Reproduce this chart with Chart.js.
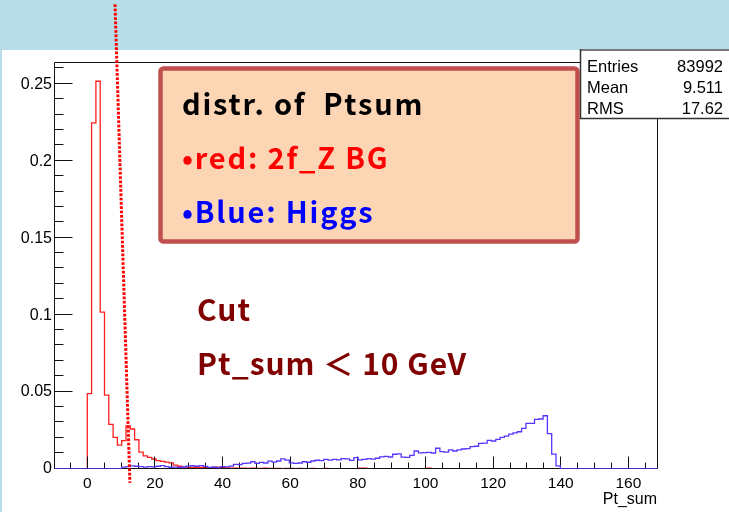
<!DOCTYPE html>
<html>
<head>
<meta charset="utf-8">
<title>Ptsum distribution</title>
<script src="https://cdn.jsdelivr.net/npm/chart.js@4.4.0/dist/chart.umd.min.js"></script>
<style>
  html, body { margin: 0; padding: 0; background: #ffffff; }
  #ptsumChart { display: block; }
</style>
</head>
<body>
<canvas id="ptsumChart" width="729" height="512"></canvas>
<script>
// histogram binning (Pt_sum, GeV)
const xMin = -9.55;
const xMax = 168.45;
const yMax = 0.2645;
const binWidth = 1.2714;

// 2f_Z background, first bin starts at 0
const bgFirstBin = 0;
const bgCounts = [
    0.049, 0.225, 0.252, 0.102, 0.048, 0.029, 0.0205, 0.0155, 0.0185, 0.028,
    0.026, 0.019, 0.011, 0.0085, 0.0075, 0.0065, 0.0055, 0.005, 0.0045, 0.004,
    0.0025, 0.0018, 0.0014, 0.0009, 0.0010, 0.0009, 0.0010, 0.0008, 0.0009, 0.0008,
    0.0012, 0.0008, 0.0007, 0.0006, 0.0006, 0.0005, 0.0005, 0.0004, 0.0005, 0.0004,
    0.0004, 0.0005, 0.0004, 0.0004, 0.0004, 0.0003, 0.0004, 0.0004, 0.0003, 0.0004,
    0.0003, 0.0003, 0.0004, 0.0003, 0.0003, 0.0004, 0.0003, 0.0003, 0.0003, 0.0002,
    0.0003, 0.0003, 0.0002, 0.0006, 0.0005, 0.0002, 0.0001, 0.0002, 0.0001, 0.0001,
    0.0002, 0.0001, 0.0001, 0.0001, 0.0001, 0.0002, 0.0001, 0.0001, 0.0002, 0.0006,
    0.0001, 0.0001, 0.0001, 0.0001, 0.0001, 0.0001, 0.0001, 0.0001, 0.0001, 0.0001
];

// Higgs signal, first filled bin starts near 10 GeV
const higgsFirstBin = 8;
const higgsCounts = [
    0.0012, 0.0015, 0.0020, 0.0018, 0.0015, 0.0012, 0.0016, 0.0014, 0.0018, 0.0022,
    0.0015, 0.0010, 0.0012, 0.0011, 0.0013, 0.0019, 0.0021, 0.0018, 0.0022, 0.0017,
    0.0011, 0.0013, 0.0009, 0.0016, 0.0014, 0.0019, 0.0030, 0.0028, 0.0036, 0.0038,
    0.0047, 0.0036, 0.0043, 0.0039, 0.0051, 0.0045, 0.0052, 0.0066, 0.0058, 0.0040,
    0.0036, 0.0039, 0.0047, 0.0044, 0.0052, 0.0057, 0.0055, 0.0062, 0.0058, 0.0063,
    0.0059, 0.0068, 0.0066, 0.0056, 0.0074, 0.0059, 0.0062, 0.0067, 0.0064, 0.0070,
    0.0079, 0.0082, 0.0078, 0.0096, 0.0098, 0.0077, 0.0075, 0.0088, 0.0117, 0.0105,
    0.0106, 0.0108, 0.0104, 0.0135, 0.0113, 0.0110, 0.0124, 0.0117, 0.0124, 0.0130,
    0.0133, 0.0145, 0.0148, 0.0166, 0.0168, 0.0186, 0.0182, 0.0193, 0.0205, 0.0213,
    0.0226, 0.0235, 0.0242, 0.0264, 0.0297, 0.0296, 0.0323, 0.0325, 0.0346, 0.0230,
    0.0097, 0.0020
];

// axis ticks
const xMajorTicks = [0, 20, 40, 60, 80, 100, 120, 140, 160];
const xMinorStep = 5;
const yMajorTicks = [0, 0.05, 0.1, 0.15, 0.2, 0.25];
const yTickLabels = ['0', '0.05', '0.1', '0.15', '0.2', '0.25'];
const yMinorStep = 0.01;

// cut marker (dotted), runs past the frame at both ends
const cutLineTop = { x: 8.2, y: 0.302 };
const cutLineBottom = { x: 12.6, y: -0.009 };

// text panels
const noteLines = ['distr. of  Ptsum', '\u2022red: 2f_Z BG', '\u2022Blue: Higgs'];
const noteColors = ['#000000', '#ff0000', '#0000ff'];
const cutLines = ['Cut', 'Pt_sum \uFF1C 10 GeV'];
const statNames = ['Entries', 'Mean', 'RMS'];
const statValues = ['83992', '9.511', '17.62'];
const xTitle = 'Pt_sum';

const bandColor = '#b7dde8';

function histPoints(counts, firstBin) {
    const pts = [{ x: xMin, y: 0 }];
    counts.forEach((v, i) => pts.push({ x: (firstBin + i) * binWidth, y: v }));
    pts.push({ x: (firstBin + counts.length) * binWidth, y: 0 });
    pts.push({ x: xMax, y: 0 });
    return pts;
}

function crisp(v) {
    return Math.floor(v) + 0.5;
}

// frame and inward ticks, painted right after the background histogram
function drawFrame(chart) {
    const c = chart.ctx;
    const area = chart.chartArea;
    const xs = chart.scales.x;
    const ys = chart.scales.y;
    const left = crisp(area.left) - 1;
    const bottom = crisp(area.bottom) - 1;
    c.save();
    c.lineWidth = 1;
    c.strokeStyle = '#111111';
    c.beginPath();
    c.moveTo(left, crisp(area.top));
    c.lineTo(crisp(area.right), crisp(area.top));
    c.lineTo(crisp(area.right), bottom);
    c.stroke();

    c.beginPath();
    c.moveTo(left, crisp(area.top));
    c.lineTo(left, bottom);
    c.lineTo(crisp(area.right), bottom);
    c.stroke();

    // y ticks
    c.beginPath();
    for (let v = 0; v <= yMax + 1e-9; v += yMinorStep) {
        const y = crisp(ys.getPixelForValue(v)) - 1;
        const major = yMajorTicks.some(t => Math.abs(t - v) < 1e-6);
        c.moveTo(left, y);
        c.lineTo(left + (major ? 18 : 9), y);
    }
    c.stroke();

    // x ticks
    c.beginPath();
    const firstMinor = Math.ceil(xMin / xMinorStep) * xMinorStep;
    for (let v = firstMinor; v <= xMax; v += xMinorStep) {
        const x = crisp(xs.getPixelForValue(v));
        const major = xMajorTicks.includes(v);
        c.moveTo(x, bottom);
        c.lineTo(x, bottom - (major ? 12 : 6));
    }
    c.stroke();
    c.restore();
}

function drawNote(c) {
    c.save();
    c.fillStyle = '#fcd5b4';
    c.strokeStyle = '#c0504d';
    c.lineWidth = 4.5;
    c.beginPath();
    c.roundRect(160.5, 68.5, 417, 173, 3);
    c.fill();
    c.stroke();
    c.font = 'bold 29px "Noto Sans CJK JP", sans-serif';
    c.letterSpacing = '1.8px';
    c.textBaseline = 'alphabetic';
    const baselines = [115, 169, 223];
    noteLines.forEach((t, i) => {
        c.fillStyle = noteColors[i];
        c.fillText(t, 182, baselines[i]);
    });

    c.fillStyle = '#800000';
    c.font = 'bold 30px "Noto Sans CJK JP", sans-serif';
    c.letterSpacing = '1px';
    c.fillText(cutLines[0], 197, 321);
    c.fillText(cutLines[1], 197, 375);
    c.restore();
}

function drawCut(chart) {
    const c = chart.ctx;
    const xs = chart.scales.x;
    const ys = chart.scales.y;
    c.save();
    c.strokeStyle = '#ff0000';
    c.lineWidth = 3;
    c.setLineDash([2.7, 1.6]);
    c.beginPath();
    c.moveTo(xs.getPixelForValue(cutLineTop.x), ys.getPixelForValue(cutLineTop.y));
    c.lineTo(xs.getPixelForValue(cutLineBottom.x), ys.getPixelForValue(cutLineBottom.y));
    c.stroke();
    c.restore();
}

function drawStats(chart) {
    const c = chart.ctx;
    c.save();
    c.fillStyle = '#ffffff';
    c.fillRect(580, 49, chart.width - 580, 69);
    c.strokeStyle = '#777777';
    c.lineWidth = 2;
    c.beginPath();
    c.moveTo(580, 50);
    c.lineTo(chart.width, 50);
    c.stroke();
    c.strokeStyle = '#333333';
    c.lineWidth = 1.5;
    c.beginPath();
    c.moveTo(580.5, 49);
    c.lineTo(580.5, 118.5);
    c.lineTo(chart.width, 118.5);
    c.stroke();

    c.fillStyle = '#000000';
    c.font = '16.5px "Liberation Sans", Arial, sans-serif';
    const baselines = [72, 93, 114];
    statNames.forEach((name, i) => {
        c.textAlign = 'left';
        c.fillText(name, 587, baselines[i]);
        c.textAlign = 'right';
        c.fillText(statValues[i], 723, baselines[i]);
    });

    // axis title, right aligned to the frame
    c.font = '16px "Liberation Sans", Arial, sans-serif';
    c.textAlign = 'right';
    c.fillText(xTitle, chart.chartArea.right, 504);
    c.restore();
}

const panelPlugin = {
    id: 'panel',
    beforeDraw(chart) {
        const c = chart.ctx;
        c.save();
        c.fillStyle = '#ffffff';
        c.fillRect(0, 0, chart.width, chart.height);
        c.fillStyle = bandColor;
        c.fillRect(0, 0, chart.width, 50);
        c.fillRect(0, 0, 2, chart.height);
        c.restore();
    },
    afterDatasetDraw(chart, args) {
        if (chart.data.datasets[args.index].label === '2f_Z BG') {
            drawFrame(chart);
        }
    },
    afterDraw(chart) {
        drawNote(chart.ctx);
        drawCut(chart);
        drawStats(chart);
    }
};

const ctx = document.getElementById('ptsumChart').getContext('2d');

const ptsumChart = new Chart(ctx, {
    type: 'line',
    data: {
        datasets: [{
            label: 'Higgs',
            data: histPoints(higgsCounts, higgsFirstBin),
            borderColor: 'rgb(85, 55, 255)',
            borderWidth: 1.3,
            stepped: true,
            pointRadius: 0,
            fill: false,
            order: 0
        }, {
            label: '2f_Z BG',
            data: histPoints(bgCounts, bgFirstBin),
            borderColor: 'rgb(255, 30, 30)',
            borderWidth: 1.3,
            stepped: true,
            pointRadius: 0,
            fill: false,
            order: 1
        }]
    },
    options: {
        responsive: false,
        animation: false,
        devicePixelRatio: 1,
        layout: { padding: { left: 0, right: 72, top: 62, bottom: 0 } },
        plugins: {
            legend: { display: false },
            tooltip: { enabled: false }
        },
        scales: {
            x: {
                type: 'linear',
                min: xMin,
                max: xMax,
                border: { display: false },
                grid: { display: false, drawTicks: false },
                afterBuildTicks: scale => { scale.ticks = xMajorTicks.map(v => ({ value: v })); },
                afterFit: scale => { scale.height = 43; },
                ticks: {
                    padding: 5,
                    maxRotation: 0,
                    autoSkip: false,
                    color: '#000000',
                    font: { family: '"Liberation Sans", Arial, sans-serif', size: 15.5 },
                    callback: v => String(v)
                }
            },
            y: {
                type: 'linear',
                min: 0,
                max: yMax,
                border: { display: false },
                grid: { display: false, drawTicks: false },
                afterBuildTicks: scale => { scale.ticks = yMajorTicks.map(v => ({ value: v })); },
                afterFit: scale => { scale.width = 55; },
                ticks: {
                    padding: 3,
                    autoSkip: false,
                    color: '#000000',
                    font: { family: '"Liberation Sans", Arial, sans-serif', size: 16 },
                    callback: (v, i) => yTickLabels[i]
                }
            }
        }
    },
    plugins: [panelPlugin]
});
</script>
</body>
</html>
